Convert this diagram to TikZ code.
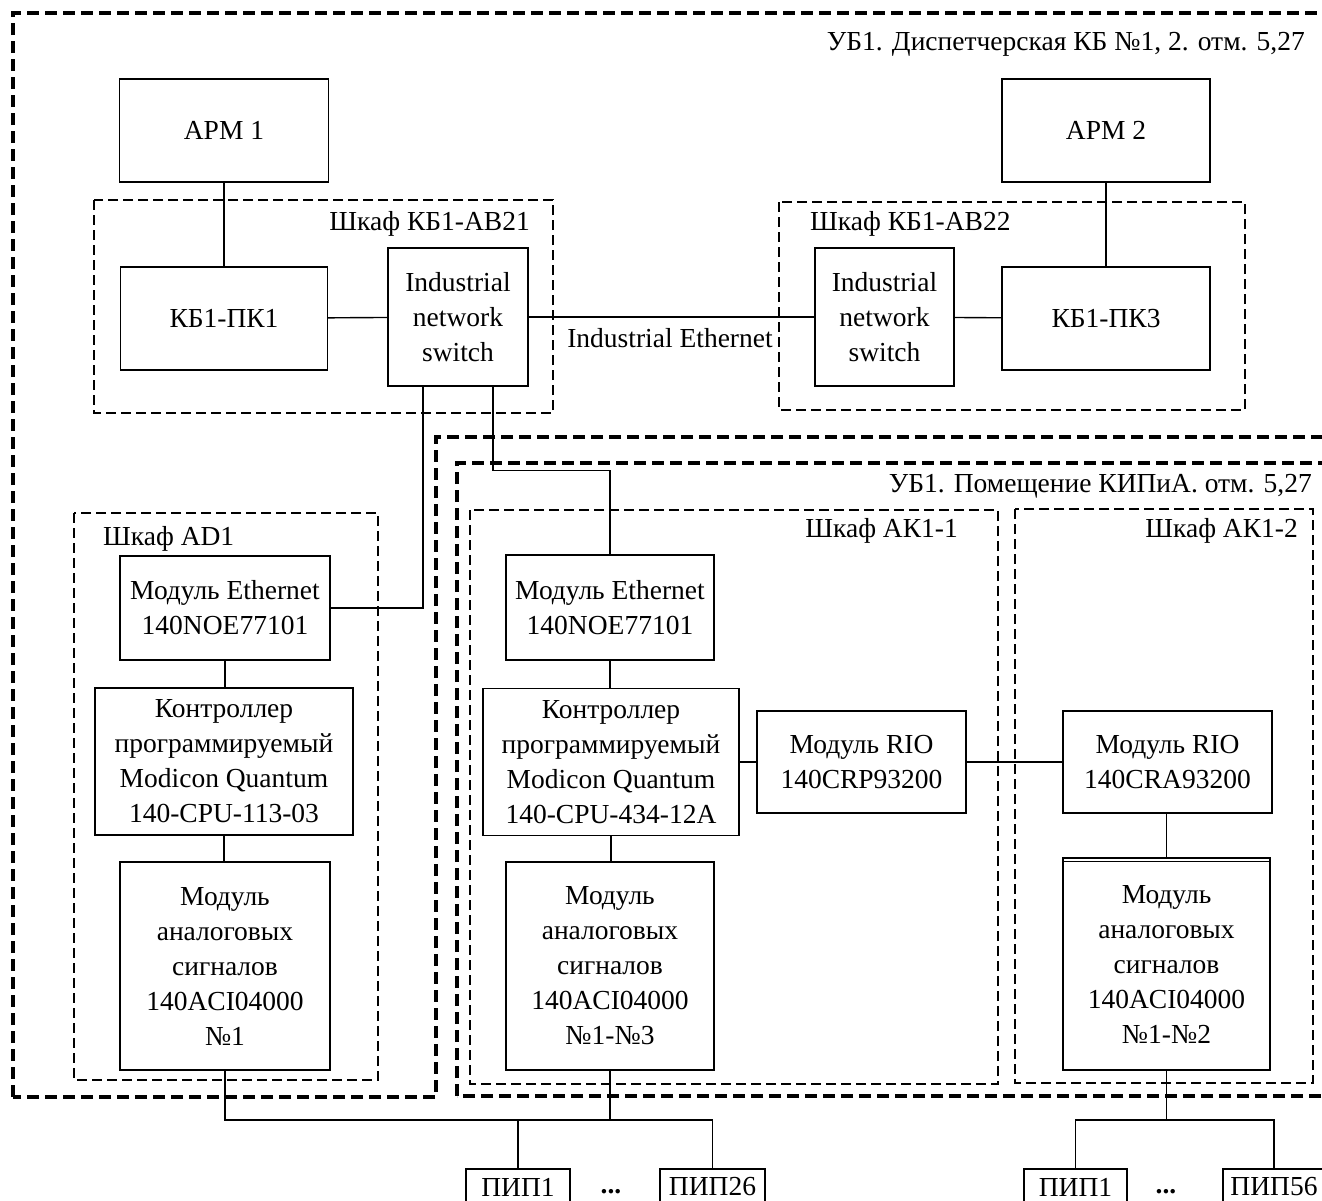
\documentclass[tikz,border=0pt]{standalone}
\usepackage{fontspec}
\setmainfont{Liberation Serif}
\begin{document}
\begin{tikzpicture}[x=1pt,y=-1pt,
  box/.style={draw,line width=1.4pt,inner sep=0pt,align=center,font=\fontsize{27.5}{35}\selectfont},
  lbl/.style={inner sep=0pt,font=\fontsize{27.5}{35}\selectfont},
  cab/.style={line width=1.4pt,dash pattern=on 10pt off 5pt},
  zone/.style={line width=3.4pt,dash pattern=on 12pt off 6pt},
  wire/.style={line width=1.4pt}]
\useasboundingbox (0,0) rectangle (1322,1200);
\clip (0,0) rectangle (1322,1200);
% zones
\draw[zone] (13,1097) -- (13,13) -- (1345,13) -- (1345,437) -- (436,437) -- (436,1097) -- cycle;
\draw[zone] (457,1096) -- (457,463) -- (1345,463) -- (1345,1096) -- cycle;
\node[lbl,anchor=base east] (z1) at (1305,50) {УБ1. Диспетчерская КБ №1, 2. отм. 5,27};
\node[lbl,anchor=base east] (z2) at (1312,492) {УБ1. Помещение КИПиА. отм. 5,27};
% cabinets
\draw[cab] (94,200) rectangle (553,413);
\node[lbl,anchor=base east] (c1) at (530,230) {Шкаф КБ1-АВ21};
\draw[cab] (779,202) rectangle (1245,410);
\node[lbl,anchor=base west] (c2) at (810,230) {Шкаф КБ1-АВ22};
\draw[cab] (74,513) rectangle (378,1080);
\node[lbl,anchor=base west] (c3) at (103,545) {Шкаф AD1};
\draw[cab] (470,510) rectangle (998,1084);
\node[lbl,anchor=base east] (c4) at (958,537) {Шкаф АК1-1};
\draw[cab] (1015,509) rectangle (1313,1083);
\node[lbl,anchor=base east] (c5) at (1298,537) {Шкаф АК1-2};
% boxes
\node[box,minimum width=209pt,minimum height=103pt] (arm1) at (224,130.5) {АРМ 1};
\node[box,minimum width=208pt,minimum height=103pt] (arm2) at (1106,130.5) {АРМ 2};
\node[box,minimum width=207pt,minimum height=103pt] (pk1) at (224,318.5) {КБ1-ПК1};
\node[box,minimum width=140pt,minimum height=138pt] (sw1) at (458,317) {Industrial\\network\\switch};
\node[box,minimum width=139pt,minimum height=138pt] (sw2) at (884.5,317) {Industrial\\network\\switch};
\node[box,minimum width=208pt,minimum height=103pt] (pk3) at (1106,318.5) {КБ1-ПК3};
\node[lbl,anchor=base] (ie) at (670,347) {Industrial Ethernet};
\node[box,minimum width=210pt,minimum height=104pt] (eth1) at (225,608) {Модуль Ethernet\\140NOE77101};
\node[box,minimum width=258pt,minimum height=147pt] (ctrl1) at (224,761.5) {Контроллер\\программируемый\\Modicon Quantum\\140-CPU-113-03};
\node[box,minimum width=210pt,minimum height=208pt] (ana1) at (225,966) {Модуль\\аналоговых\\сигналов\\140ACI04000\\№1};
\node[box,minimum width=208pt,minimum height=105pt] (eth2) at (610,607.5) {Модуль Ethernet\\140NOE77101};
\node[box,minimum width=256pt,minimum height=147pt] (ctrl2) at (611,762) {Контроллер\\программируемый\\Modicon Quantum\\140-CPU-434-12A};
\node[box,minimum width=208pt,minimum height=208pt] (ana2) at (610,966) {Модуль\\аналоговых\\сигналов\\140ACI04000\\№1-№3};
\node[box,minimum width=209pt,minimum height=102pt] (rio1) at (861.5,762) {Модуль RIO\\140CRP93200};
\node[box,minimum width=209pt,minimum height=102pt] (rio2) at (1167.5,762) {Модуль RIO\\140CRA93200};
\node[box,minimum width=207pt,minimum height=212pt] (ana3) at (1166.5,964) {Модуль\\аналоговых\\сигналов\\140ACI04000\\№1-№2};
\draw[wire] ([yshift=-4pt]ana3.north west) -- ([yshift=-4pt]ana3.north east);
\node[box,minimum width=104pt,minimum height=36pt] (pip1a) at (518,1187) {ПИП1};
\node[box,minimum width=105pt,minimum height=36pt] (pip26) at (712.5,1187) {ПИП26};
\node[box,minimum width=103pt,minimum height=36pt] (pip1b) at (1075.5,1187) {ПИП1};
\node[box,minimum width=102pt,minimum height=36pt] (pip56) at (1274,1187) {ПИП56};
\node[lbl,anchor=base,font=\fontsize{27.5}{35}\selectfont\bfseries] (dots1) at (611,1193) {...};
\node[lbl,anchor=base,font=\fontsize{27.5}{35}\selectfont\bfseries] (dots2) at (1166,1193) {...};
% wires
\coordinate (bus) at (0,1120);
\draw[wire] (arm1) -- (pk1);
\draw[wire] (arm2) -- (pk3);
\draw[wire] (pk1) -- (sw1);
\draw[wire] (sw1) -- (sw2);
\draw[wire] (sw2) -- (pk3);
\draw[wire] ([xshift=-35pt]sw1.south) |- (eth1.east);
\draw[wire] ([xshift=35pt]sw1.south) -- ++(0,84) -| (eth2.north);
\draw[wire] (eth1.south) -- (eth1.south |- ctrl1.north);
\draw[wire] (ctrl1.south) -- (ctrl1.south |- ana1.north);
\draw[wire] (eth2.south) -- (eth2.south |- ctrl2.north);
\draw[wire] (ctrl2.south) -- (ctrl2.south |- ana2.north);
\draw[wire] (ctrl2.east) -- (rio1.west);
\draw[wire] (rio1) -- (rio2);
\draw[wire] (rio2.south -| ana3.north) -- (ana3.north);
\draw[wire] (ana1.south) -- (ana1.south |- bus) -- (pip26.north |- bus) -- (pip26.north);
\draw[wire] (ana2.south) -- (ana2.south |- bus);
\draw[wire] (pip1a.north) -- (pip1a.north |- bus);
\draw[wire] (ana3.south) -- (ana3.south |- bus);
\draw[wire] (pip1b.north) |- (pip56.north |- bus) -- (pip56.north);
\end{tikzpicture}
\end{document}
